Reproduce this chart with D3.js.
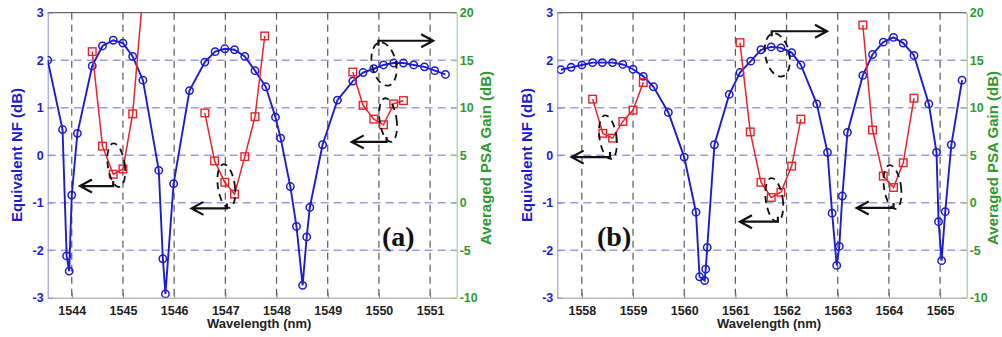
<!DOCTYPE html>
<html>
<head>
<meta charset="utf-8">
<script src="https://cdn.jsdelivr.net/npm/d3@7/dist/d3.min.js"></script>
<style>
    body { margin: 0; background: #fff; }
    svg { display: block; font-family: "Liberation Sans", Arial, sans-serif; font-weight: bold; }
</style>
</head>
<body>
<svg id="chart" width="1002" height="337"></svg>
<script>
// ---- panel (a) data ----
const gainWlA = [1543.53, 1543.82, 1543.90, 1543.95, 1544.00, 1544.11, 1544.40, 1544.60, 1544.81, 1545.00, 1545.19, 1545.39,
    1545.70, 1545.78, 1545.83, 1545.99, 1546.30, 1546.60, 1546.80, 1546.99, 1547.18, 1547.38, 1547.58, 1547.79, 1547.98,
    1548.08, 1548.27, 1548.39, 1548.51, 1548.59, 1548.65, 1548.90, 1549.19, 1549.49, 1549.69, 1549.90, 1550.09, 1550.29,
    1550.48, 1550.68, 1550.89, 1551.09, 1551.30];
const gainA = [15.0, 7.7, -5.6, -7.2, 0.8, 7.3, 14.4, 16.5, 17.1, 16.8, 15.4, 12.9,
    3.4, -5.9, -9.6, 2.0, 11.8, 14.8, 15.9, 16.2, 16.1, 15.4, 13.9, 12.2, 9.0,
    6.8, 1.7, -2.5, -8.7, -3.6, -0.5, 6.1, 10.8, 12.8, 13.7, 14.1, 14.5, 14.7,
    14.7, 14.5, 14.3, 13.9, 13.5];
const nfWlA = [
    [1544.40, 1544.60, 1544.81, 1545.00, 1545.19, 1545.39],
    [1546.60, 1546.79, 1546.99, 1547.18, 1547.38, 1547.58, 1547.77],
    [1549.49, 1549.69, 1549.90, 1550.09, 1550.29, 1550.48]
];
const nfA = [
    [2.18, 0.19, -0.40, -0.29, 0.87, 3.41],
    [0.89, -0.12, -0.57, -0.82, -0.03, 0.81, 2.51],
    [1.75, 1.05, 0.76, 0.64, 1.08, 1.15]
];

// ---- panel (b) data ----
const gainWlB = [1557.59, 1557.79, 1558.00, 1558.21, 1558.40, 1558.60, 1558.80, 1559.00, 1559.20, 1559.40, 1559.69,
    1560.00, 1560.23, 1560.30, 1560.40, 1560.42, 1560.45, 1560.59, 1560.88, 1561.09, 1561.30, 1561.50, 1561.70, 1561.89,
    1562.10, 1562.28, 1562.59, 1562.80, 1562.89, 1562.98, 1563.03, 1563.09, 1563.19, 1563.49, 1563.68, 1563.89, 1564.09,
    1564.28, 1564.49, 1564.78, 1564.93, 1564.97, 1565.03, 1565.10, 1565.22, 1565.43];
const gainB = [14.0, 14.25, 14.5, 14.75, 14.75, 14.75, 14.55, 14.05, 13.3, 12.2, 9.5,
    4.8, -1.0, -7.8, -8.2, -7.0, -4.7, 6.1, 11.4, 13.7, 14.9, 16.1, 16.4, 16.3,
    15.8, 14.5, 10.4, 5.3, -1.1, -6.6, -4.6, 0.7, 7.4, 13.4, 15.6, 16.9, 17.4,
    16.8, 15.5, 10.4, 5.3, -2.0, -6.1, -0.95, 6.1, 12.9];
const nfWlB = [
    [1558.21, 1558.41, 1558.60, 1558.80, 1559.00, 1559.20],
    [1561.09, 1561.29, 1561.50, 1561.70, 1561.89, 1562.10, 1562.28],
    [1563.49, 1563.68, 1563.89, 1564.09, 1564.28, 1564.49]
];
const nfB = [
    [1.18, 0.46, 0.36, 0.71, 0.95, 1.53],
    [2.37, 0.49, -0.57, -0.89, -0.78, -0.23, 0.76],
    [2.74, 0.53, -0.44, -0.68, -0.16, 1.20]
];

// ticks
const xTicksA = [1544, 1545, 1546, 1547, 1548, 1549, 1550, 1551];
const xTicksB = [1558, 1559, 1560, 1561, 1562, 1563, 1564, 1565];
const nfTicks = [-3, -2, -1, 0, 1, 2, 3];
const gainTicks = [-10, -5, 0, 5, 10, 15, 20];

// annotations: dashed ellipse centre [wl, NF] and arrow [wl from, wl tip, NF]
const markA = [[1544.87, -0.21], [1547.02, -0.65], [1550.10, 1.92], [1550.18, 0.74]];
const arrowA = [[1544.81, 1544.16, -0.65], [1547.03, 1546.34, -1.12], [1549.99, 1551.06, 2.41], [1550.15, 1549.47, 0.28]];
const markB = [[1558.51, 0.38], [1561.82, 2.11], [1561.76, -0.94], [1564.07, -0.67]];
const arrowB = [[1558.55, 1557.80, -0.04], [1561.71, 1562.79, 2.61], [1561.83, 1561.09, -1.40], [1564.09, 1563.37, -1.11]];

const blue = "#1c1cd6";
const red = "#e8232a";
const green = "#2f9a2f";

const svg = d3.select("#chart");

function drawPanel(p) {
    let top = 12.7, bottom = 297.7;
    let x = d3.scaleLinear().domain(p.xDomain).range([p.left, p.right]);
    let yNF = d3.scaleLinear().domain([-3, 3]).range([bottom, top]);
    let yGain = d3.scaleLinear().domain([-10, 20]).range([bottom, top]);
    let g = svg.append("g");

    g.append("clipPath").attr("id", "clip-" + p.id).append("rect")
        .attr("x", p.left).attr("y", top).attr("width", p.right - p.left).attr("height", bottom - top);

    // grid
    g.selectAll(".vgrid").data(p.xTicks).join("line").attr("class", "vgrid")
        .attr("x1", d => x(d)).attr("x2", d => x(d)).attr("y1", top).attr("y2", bottom)
        .attr("stroke", "#5a5a5a").attr("stroke-width", 1.2).attr("stroke-dasharray", "7,5");
    g.selectAll(".hgrid").data(nfTicks.slice(1, -1)).join("line").attr("class", "hgrid")
        .attr("x1", p.left).attr("x2", p.right).attr("y1", d => yNF(d)).attr("y2", d => yNF(d))
        .attr("stroke", "#9d9de6").attr("stroke-width", 1.4).attr("stroke-dasharray", "8,5");

    // top border
    g.append("line").attr("x1", p.left).attr("x2", p.right).attr("y1", top).attr("y2", top)
        .attr("stroke", "#444").attr("stroke-width", 1);

    let fmt = d => String(d);

    let xAxis = g.append("g").attr("transform", "translate(0," + bottom + ")")
        .call(d3.axisBottom(x).tickValues(p.xTicks).tickFormat(fmt).tickSizeInner(-5).tickSizeOuter(0).tickPadding(8));
    xAxis.select(".domain").attr("stroke", "#9a9a9a");
    xAxis.selectAll(".tick line").attr("stroke", "#777");
    xAxis.selectAll("text").attr("fill", "#222").style("font-size", "12.5px");

    let lAxis = g.append("g").attr("transform", "translate(" + p.left + ",0)")
        .call(d3.axisLeft(yNF).tickValues(nfTicks).tickFormat(fmt).tickSizeInner(-5).tickSizeOuter(0).tickPadding(4));
    lAxis.select(".domain").attr("stroke", "#8d8de8");
    lAxis.selectAll(".tick line").attr("stroke", "#8d8de8");
    lAxis.selectAll("text").attr("fill", blue).style("font-size", "12.5px");

    let rAxis = g.append("g").attr("transform", "translate(" + p.right + ",0)")
        .call(d3.axisRight(yGain).tickValues(gainTicks).tickFormat(fmt).tickSizeInner(-5).tickSizeOuter(0).tickPadding(3));
    rAxis.select(".domain").attr("stroke", "#8cc98c");
    rAxis.selectAll(".tick line").attr("stroke", "#8cc98c");
    rAxis.selectAll("text").attr("fill", green).style("font-size", "12.5px");

    // axis titles
    g.append("text").attr("x", (p.left + p.right) / 2 + 7).attr("y", 328).attr("text-anchor", "middle")
        .style("font-size", "13px").attr("fill", "#222").text("Wavelength (nm)");
    g.append("text").attr("transform", "translate(" + (p.left - 25.5) + ",155) rotate(-90)").attr("text-anchor", "middle")
        .style("font-size", "15px").attr("fill", blue).text("Equivalent NF (dB)");
    g.append("text").attr("transform", "translate(" + (p.right + p.rightTitleGap) + ",158) rotate(-90)").attr("text-anchor", "middle")
        .style("font-size", "15px").attr("fill", green).text("Averaged PSA Gain (dB)");

    let plot = g.append("g").attr("clip-path", "url(#clip-" + p.id + ")");

    // gain curve (blue, right axis)
    let gainPts = p.gainWl.map((w, i) => [w, p.gain[i]]);
    plot.append("path").datum(gainPts)
        .attr("d", d3.line().x(d => x(d[0])).y(d => yGain(d[1])))
        .attr("fill", "none").attr("stroke", blue).attr("stroke-width", 1.9);
    plot.selectAll(".gain-pt").data(gainPts).join("circle").attr("class", "gain-pt")
        .attr("cx", d => x(d[0])).attr("cy", d => yGain(d[1])).attr("r", 3.7)
        .attr("fill", "none").attr("stroke", blue).attr("stroke-width", 1.5);

    // NF curves (red, left axis)
    p.nfWl.forEach((seg, k) => {
        let pts = seg.map((w, i) => [w, p.nf[k][i]]);
        plot.append("path").datum(pts)
            .attr("d", d3.line().x(d => x(d[0])).y(d => yNF(d[1])))
            .attr("fill", "none").attr("stroke", red).attr("stroke-width", 1.5);
        plot.selectAll(".nf-pt-" + k).data(pts).join("rect").attr("class", "nf-pt-" + k)
            .attr("x", d => x(d[0]) - 3.8).attr("y", d => yNF(d[1]) - 3.8).attr("width", 7.6).attr("height", 7.6)
            .attr("fill", "none").attr("stroke", red).attr("stroke-width", 1.4);
    });

    // dashed ellipses and arrows
    p.marks.forEach((m, i) => {
        let big = p.bigMarks.includes(i);
        g.append("ellipse").attr("cx", x(m[0])).attr("cy", yNF(m[1]))
            .attr("rx", big ? 12 : 8.5).attr("ry", 22)
            .attr("transform", "rotate(" + (big ? -12 : -8) + "," + x(m[0]) + "," + yNF(m[1]) + ")")
            .attr("fill", "none").attr("stroke", "#111").attr("stroke-width", 1.8).attr("stroke-dasharray", "7,5");
    });
    p.arrows.forEach(a => {
        let x0 = x(a[0]), x1 = x(a[1]), y = yNF(a[2]);
        let dir = x1 > x0 ? 1 : -1;
        let hook = dir > 0 ? 5 : -5;
        let d = "M" + x0 + "," + (y + hook) + "L" + x0 + "," + y + "L" + x1 + "," + y +
            "M" + (x1 - dir * 12) + "," + (y - 6.5) + "L" + x1 + "," + y + "L" + (x1 - dir * 12) + "," + (y + 6.5);
        g.append("path").attr("d", d).attr("fill", "none").attr("stroke", "#111").attr("stroke-width", 2.2);
    });

    g.append("text").attr("x", p.labelPos[0]).attr("y", p.labelPos[1])
        .style("font-family", "'Liberation Serif', 'Times New Roman', serif").style("font-size", "28px")
        .attr("fill", "#111").text(p.label);
}

drawPanel({
    id: "a", left: 47.7, right: 456.7, xDomain: [1543.53, 1551.52], xTicks: xTicksA,
    gainWl: gainWlA, gain: gainA, nfWl: nfWlA, nf: nfA, rightTitleGap: 34.5,
    marks: markA, bigMarks: [2], arrows: arrowA, label: "(a)", labelPos: [382, 246]
});
drawPanel({
    id: "b", left: 557.3, right: 966.7, xDomain: [1557.52, 1565.52], xTicks: xTicksB,
    gainWl: gainWlB, gain: gainB, nfWl: nfWlB, nf: nfB, rightTitleGap: 31.5,
    marks: markB, bigMarks: [1], arrows: arrowB, label: "(b)", labelPos: [597, 246]
});
</script>
</body>
</html>
